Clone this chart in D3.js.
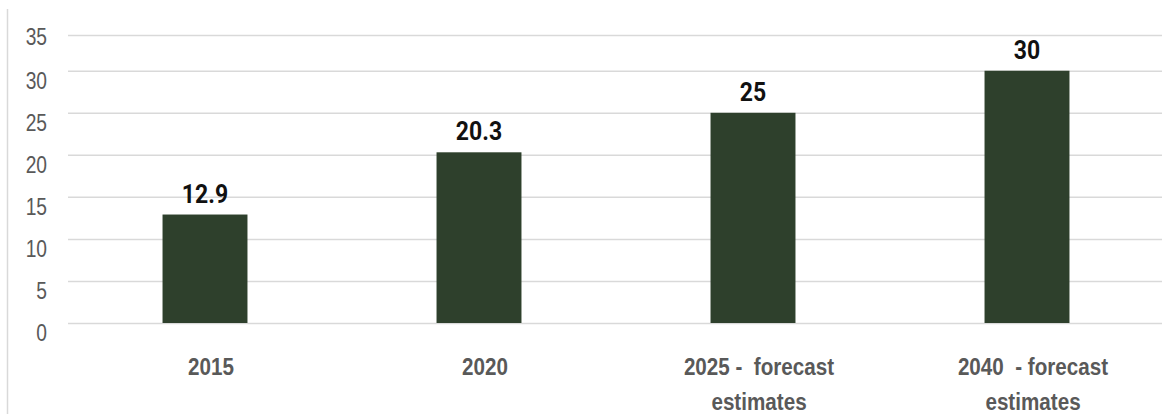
<!DOCTYPE html>
<html>
<head>
<meta charset="utf-8">
<script src="https://cdn.jsdelivr.net/npm/d3@7"></script>
<style>
  html, body { margin: 0; padding: 0; background: #ffffff; }
  svg { display: block; }
</style>
</head>
<body>
<svg id="chart" width="1162" height="414"></svg>
<script>
const categories = ["2015", "2020", "2025 -  forecast|estimates", "2040  - forecast|estimates"];
const values = [12.9, 20.3, 25, 30];
const valueLabels = ["12.9", "20.3", "25", "30"];
const yTicks = [0, 5, 10, 15, 20, 25, 30, 35];

const svg = d3.select("#chart");
const W = 1162, H = 414;

const x = d3.scaleBand()
  .domain(categories)
  .range([68, 1164])
  .paddingInner(0.69)
  .paddingOuter(0.345);

const y = d3.scaleLinear()
  .domain([0, 34.25])
  .range([323, 35])
  .clamp(true);

// left border line
svg.append("line")
  .attr("x1", 7.5).attr("x2", 7.5)
  .attr("y1", 9).attr("y2", H)
  .attr("stroke", "#d9d9d9").attr("stroke-width", 1.5);

// gridlines via axis
const grid = svg.append("g")
  .attr("transform", "translate(68,0)")
  .call(d3.axisLeft(y).tickValues(yTicks).tickSize(-(W - 68)).tickFormat(""));
grid.select(".domain").remove();
grid.selectAll(".tick line").attr("stroke", "#d9d9d9").attr("stroke-width", 1.5);

// y labels
const yl = svg.append("g")
  .attr("transform", "translate(47,0)")
  .call(d3.axisLeft(y).tickValues(yTicks).tickSize(0).tickPadding(0));
yl.select(".domain").remove();
yl.selectAll(".tick text")
  .attr("fill", "#595959")
  .attr("font-family", "'Liberation Sans', Arial, sans-serif")
  .attr("font-size", 24)
  .attr("transform", "scale(0.8,1)")
  .attr("dy", d => d === 35 ? "0.4em" : "0.72em");

// bars
svg.append("g").selectAll("rect")
  .data(values)
  .join("rect")
  .attr("x", (d, i) => x(categories[i]))
  .attr("width", x.bandwidth())
  .attr("y", d => y(d))
  .attr("height", d => y(0) - y(d))
  .attr("fill", "#2e402c");

// value labels
svg.append("g").selectAll("text")
  .data(values)
  .join("text")
  .attr("transform", (d, i) => `translate(${x(categories[i]) + x.bandwidth() / 2},${y(d) - 12}) scale(0.92,1)`)
  .attr("text-anchor", "middle")
  .attr("font-family", "Roboto, 'Liberation Sans', sans-serif")
  .attr("font-weight", "bold")
  .attr("font-size", 25)
  .attr("fill", "#111111")
  .text((d, i) => valueLabels[i]);

// x labels
const xl = svg.append("g").selectAll("text")
  .data(categories)
  .join("text")
  .attr("transform", d => `translate(${x(d) + x.bandwidth() / 2 + 6},375) scale(0.86,1)`)
  .attr("text-anchor", "middle")
  .attr("font-family", "'Liberation Sans', Arial, sans-serif")
  .attr("font-weight", "bold")
  .attr("font-size", 24)
  .attr("fill", "#595959");
xl.each(function(d) {
  const parts = d.split("|");
  const t = d3.select(this);
  parts.forEach((p, i) => {
    t.append("tspan")
      .attr("x", 0)
      .attr("dy", i === 0 ? 0 : 35)
      .attr("xml:space", "preserve")
      .text(p);
  });
});
</script>
</body>
</html>
